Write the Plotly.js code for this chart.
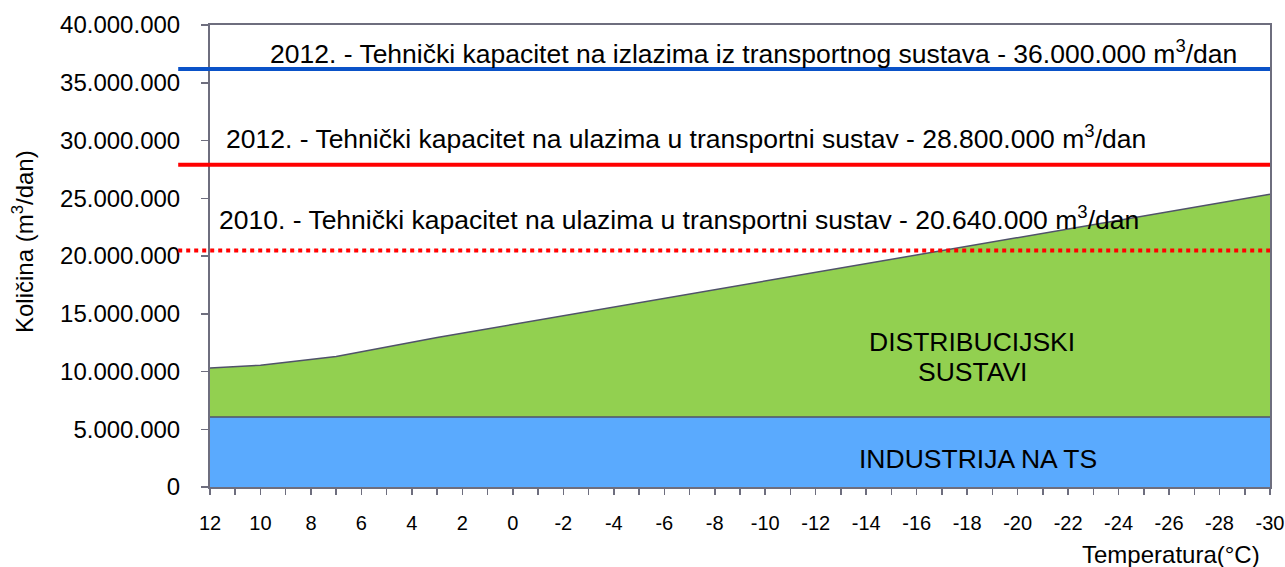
<!DOCTYPE html>
<html>
<head>
<meta charset="utf-8">
<script src="https://cdn.plot.ly/plotly-3.0.1.min.js"></script>
<style>html,body{margin:0;padding:0;background:#fff;}#chart{width:1285px;height:567px;}</style>
</head>
<body>
<div id="chart"></div>
<script>
// Temperature points (°C)
const temperatures = [12, 10, 7, 3, -2, -11, -30];
// Industry on transport system (m3/day)
const industry = [6070000, 6070000, 6070000, 6070000, 6070000, 6070000, 6070000];
// Distribution systems (m3/day), stacked on top of industry
const distribution = [4230000, 4480000, 5230000, 6880000, 8700000, 12130000, 19280000];
// Capacity levels (m3/day)
const capExit2012 = 36200000;
const capEntry2012 = 27900000;
const capEntry2010 = 20480000;
const yTickVals = [0, 5000000, 10000000, 15000000, 20000000, 25000000, 30000000, 35000000, 40000000];
const yTickText = ["0", "5.000.000", "10.000.000", "15.000.000", "20.000.000", "25.000.000", "30.000.000", "35.000.000", "40.000.000"];
const xTickVals = [12, 10, 8, 6, 4, 2, 0, -2, -4, -6, -8, -10, -12, -14, -16, -18, -20, -22, -24, -26, -28, -30];

const font = "Liberation Sans, Arial, sans-serif";
const edge = "#50526a";

const traces = [
  {x: temperatures, y: industry, type: "scatter", mode: "lines", stackgroup: "one",
   fillcolor: "#5aaafe", line: {color: edge, width: 1.5}, hoverinfo: "skip"},
  {x: temperatures, y: distribution, type: "scatter", mode: "lines", stackgroup: "one",
   fillcolor: "#92d050", line: {color: edge, width: 1.5}, hoverinfo: "skip"}
];

function hline(y, color, dash) {
  return {type: "line", xref: "paper", yref: "y", x0: -0.03, x1: 1, y0: y, y1: y,
          line: {color: color, width: 4, dash: dash}, layer: "above"};
}

const annFont = {family: font, size: 26.5, color: "#000"};
function label(x, y, text) {
  return {xref: "paper", yref: "y", x: x, y: y, xanchor: "center", yanchor: "middle",
          showarrow: false, font: annFont, text: text};
}
const layout = {
  width: 1285, height: 567,
  margin: {l: 210, r: 15, t: 25, b: 80},
  paper_bgcolor: "#fff", plot_bgcolor: "#fff",
  showlegend: false,
  xaxis: {
    range: [12, -30], showgrid: false, zeroline: false,
    tickvals: xTickVals, ticktext: xTickVals.map(String),
    ticks: "outside", ticklen: 6, tickwidth: 1.5, tickcolor: "#6e6e7e",
    minor: {dtick: 1, ticks: "outside", ticklen: 6, tickwidth: 1.5, tickcolor: "#6e6e7e"},
    ticklabelstandoff: 11,
    showline: true, linecolor: "#6e6e7e", linewidth: 2, mirror: true,
    tickfont: {family: font, size: 20, color: "#000"}
  },
  yaxis: {
    range: [0, 40000000], showgrid: false, zeroline: false,
    tickvals: yTickVals, ticktext: yTickText,
    ticks: "outside", ticklen: 7, tickwidth: 1.5, tickcolor: "#6e6e7e",
    ticklabelstandoff: 16,
    showline: true, linecolor: "#6e6e7e", linewidth: 2, mirror: true,
    tickfont: {family: font, size: 24, color: "#000"}
  },
  shapes: [
    hline(capExit2012, "#0a52c8", "solid"),
    hline(capEntry2012, "#ff0000", "solid"),
    hline(capEntry2010, "#ff0000", "dot")
  ],
  annotations: [
    label(0.513, 37700000, "2012. - Tehnički kapacitet na izlazima iz transportnog sustava - 36.000.000 m<sup>3</sup>/dan"),
    label(0.449, 30300000, "2012. - Tehnički kapacitet na ulazima u transportni sustav - 28.800.000 m<sup>3</sup>/dan"),
    label(0.442, 23260000, "2010. - Tehnički kapacitet na ulazima u transportni sustav - 20.640.000 m<sup>3</sup>/dan"),
    label(0.719, 12560000, "DISTRIBUCIJSKI"),
    label(0.719, 9960000, "SUSTAVI"),
    label(0.7245, 2390000, "INDUSTRIJA NA TS"),
    {xref: "paper", yref: "paper", x: 0.992, y: -0.147, xanchor: "right", yanchor: "middle", showarrow: false,
     font: {family: font, size: 24, color: "#000"}, text: "Temperatura(°C)"},
    {xref: "paper", yref: "paper", x: -0.177, y: 0.531, xanchor: "center", yanchor: "middle", textangle: -90, showarrow: false,
     font: {family: font, size: 24, color: "#000"}, text: "Količina (m<sup>3</sup>/dan)"}
  ]
};

Plotly.newPlot("chart", traces, layout, {displayModeBar: false, staticPlot: true});
</script>
</body>
</html>
